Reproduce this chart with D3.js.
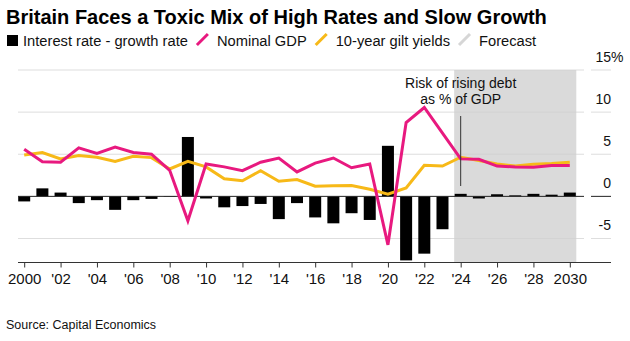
<!DOCTYPE html>
<html>
<head>
<meta charset="utf-8">
<script src="https://cdn.jsdelivr.net/npm/d3@7"></script>
<style>
  body { margin: 0; background: #fff; }
  svg { display: block; font-family: "Liberation Sans", Arial, sans-serif; }
</style>
</head>
<body>
<div id="chart-area"></div>
<script>
// yearly values, 2024 onward are forecasts
var years = [2000, 2001, 2002, 2003, 2004, 2005, 2006, 2007, 2008, 2009,
             2010, 2011, 2012, 2013, 2014, 2015, 2016, 2017, 2018, 2019,
             2020, 2021, 2022, 2023, 2024, 2025, 2026, 2027, 2028, 2029, 2030];

// interest rate minus growth rate (bars)
var rateGap = [-0.6, 0.95, 0.45, -0.8, -0.45, -1.6, -0.45, -0.3, -0.05, 7.05,
               -0.25, -1.3, -1.15, -0.9, -2.7, -0.8, -2.5, -3.2, -2.0, -2.8,
               6.0, -7.6, -6.8, -3.9, 0.3, -0.25, 0.25, 0.12, 0.3, 0.2, 0.45];

// nominal GDP growth
var nominalGdp = [5.6, 4.1, 4.05, 5.75, 5.1, 5.85, 5.2, 5.0, 3.1, -2.9,
                  3.85, 3.5, 3.05, 4.05, 4.55, 2.9, 3.95, 4.55, 3.4, 3.85,
                  -5.75, 8.75, 10.55, 7.5, 4.45, 4.4, 3.6, 3.5, 3.45, 3.65, 3.65];

// 10-year gilt yields
var giltYields = [4.9, 5.2, 4.45, 4.85, 4.65, 4.15, 4.75, 4.6, 3.25, 4.15,
                  3.5, 2.1, 1.85, 3.05, 1.8, 2.0, 1.2, 1.25, 1.3, 0.85,
                  0.25, 1.0, 3.7, 3.6, 4.65, 4.25, 3.85, 3.6, 3.8, 3.9, 4.05];

var forecastYears = [2024, 2030];
var yTicks = [-5, 0, 5, 10, 15];
var xTicks = [2000, 2002, 2004, 2006, 2008, 2010, 2012, 2014,
              2016, 2018, 2020, 2022, 2024, 2026, 2028, 2030];
var xTickLabels = ["2000", "'02", "'04", "'06", "'08", "'10", "'12", "'14",
                   "'16", "'18", "'20", "'22", "'24", "'26", "'28", "2030"];

var legendItems = [
  { label: "Interest rate - growth rate", color: "#000", kind: "square" },
  { label: "Nominal GDP", color: "#e8197f", kind: "slash" },
  { label: "10-year gilt yields", color: "#f7b918", kind: "slash" },
  { label: "Forecast", color: "#d6d6d6", kind: "slash" }
];

var width = 630, height = 341;
var plotLeft = 18, plotRight = 584, labelLeft = 591, labelRight = 611;
var plotTop = 70, plotBottom = 262.5;

var svg = d3.select("#chart-area")
  .append("svg")
    .attr("width", width)
    .attr("height", height);

var x = d3.scaleLinear()
  .domain([2000, 2030])
  .range([24.2, 569.8]);

var y = d3.scaleLinear()
  .domain([-7.85, 15])
  .range([plotBottom, plotTop]);

var barW = 12;

// title
svg.append("text")
  .attr("x", 6)
  .attr("y", 24)
  .attr("font-size", "20px")
  .attr("font-weight", "bold")
  .attr("fill", "#000")
  .text("Britain Faces a Toxic Mix of High Rates and Slow Growth");

// legend
var lx = 7;
var legendY = 46;
legendItems.forEach(function(item) {
  if (item.kind === "square") {
    svg.append("rect")
      .attr("x", lx).attr("y", legendY - 11)
      .attr("width", 11).attr("height", 11)
      .attr("fill", item.color);
    lx += 16;
  } else {
    svg.append("line")
      .attr("x1", lx).attr("y1", legendY - 1)
      .attr("x2", lx + 11).attr("y2", legendY - 12)
      .attr("stroke", item.color)
      .attr("stroke-width", 3);
    lx += 20;
  }
  var t = svg.append("text")
    .attr("x", lx).attr("y", legendY)
    .attr("font-size", "14.7px")
    .attr("fill", "#111")
    .text(item.label);
  lx += t.node().getComputedTextLength() + 9;
});

// forecast shading
svg.append("rect")
  .attr("x", x(forecastYears[0]) - barW / 2 - 0.5)
  .attr("y", plotTop)
  .attr("width", x(forecastYears[1]) - x(forecastYears[0]) + barW + 1)
  .attr("height", plotBottom - plotTop)
  .attr("fill", "#dadada");

// gridlines, split under the value labels
var grid = svg.append("g");
[[plotLeft, plotRight], [labelLeft, labelRight]].forEach(function(seg) {
  grid.selectAll(null)
    .data(yTicks)
    .enter()
    .append("line")
      .attr("x1", seg[0])
      .attr("x2", seg[1])
      .attr("y1", function(d) { return y(d); })
      .attr("y2", function(d) { return y(d); })
      .attr("stroke", function(d) { return d === 0 ? "none" : "#cfcfcf"; })
      .attr("stroke-opacity", 0.7)
      .attr("stroke-width", 1);
});

// value labels sit above their gridline, "%" hangs past the right edge
var ylab = grid.selectAll(".ylabel")
  .data(yTicks)
  .enter()
  .append("text")
    .attr("class", "ylabel")
    .attr("x", labelRight)
    .attr("y", function(d) { return y(d) - 8; })
    .attr("text-anchor", "end")
    .attr("font-size", "14px")
    .attr("fill", "#111")
    .text(function(d) { return d; });

svg.append("text")
  .attr("x", labelRight)
  .attr("y", y(15) - 8)
  .attr("font-size", "14px")
  .attr("fill", "#111")
  .text("%");

// bars
svg.selectAll(".bar")
  .data(years)
  .enter()
  .append("rect")
    .attr("class", "bar")
    .attr("x", function(d) { return x(d) - barW / 2; })
    .attr("width", barW)
    .attr("y", function(d, i) { return y(Math.max(0, rateGap[i])); })
    .attr("height", function(d, i) { return Math.abs(y(rateGap[i]) - y(0)); })
    .attr("fill", "#000");

// zero line
[[plotLeft, plotRight], [labelLeft, labelRight]].forEach(function(seg) {
  svg.append("line")
    .attr("x1", seg[0]).attr("x2", seg[1])
    .attr("y1", y(0)).attr("y2", y(0))
    .attr("stroke", "#222")
    .attr("stroke-width", 1);
});

// lines
var line = d3.line()
  .x(function(d) { return x(d[0]); })
  .y(function(d) { return y(d[1]); });

svg.append("path")
  .datum(d3.zip(years, giltYields))
  .attr("d", line)
  .attr("fill", "none")
  .attr("stroke", "#f7b918")
  .attr("stroke-width", 3)
  .attr("stroke-linejoin", "miter");

svg.append("path")
  .datum(d3.zip(years, nominalGdp))
  .attr("d", line)
  .attr("fill", "none")
  .attr("stroke", "#e8197f")
  .attr("stroke-width", 3)
  .attr("stroke-linejoin", "miter");

// x axis
var xAxis = d3.axisBottom(x)
  .tickValues(xTicks)
  .tickSize(5)
  .tickPadding(6)
  .tickFormat(function(d, i) { return xTickLabels[i]; });

var xAxisGroup = svg.append("g")
  .attr("transform", "translate(0," + plotBottom + ")")
  .call(xAxis);

xAxisGroup.select(".domain").remove();
xAxisGroup.append("line")
  .attr("x1", plotLeft).attr("x2", labelRight)
  .attr("stroke", "#333").attr("stroke-width", 1);
xAxisGroup.selectAll(".tick line").attr("stroke", "#333");
xAxisGroup.selectAll(".tick text")
  .attr("font-size", "15px")
  .attr("font-family", "Liberation Sans, Arial, sans-serif")
  .attr("fill", "#111");

// annotation
svg.append("line")
  .attr("x1", x(2024)).attr("x2", x(2024))
  .attr("y1", 116).attr("y2", 186)
  .attr("stroke", "#333")
  .attr("stroke-width", 1);

svg.append("text")
  .attr("x", x(2024))
  .attr("y", 88)
  .attr("text-anchor", "middle")
  .attr("font-size", "14px")
  .attr("fill", "#111")
  .text("Risk of rising debt");

svg.append("text")
  .attr("x", x(2024))
  .attr("y", 104)
  .attr("text-anchor", "middle")
  .attr("font-size", "14px")
  .attr("fill", "#111")
  .text("as % of GDP");

// source
svg.append("text")
  .attr("x", 6)
  .attr("y", 329)
  .attr("font-size", "12.5px")
  .attr("fill", "#111")
  .text("Source: Capital Economics");
</script>
</body>
</html>
